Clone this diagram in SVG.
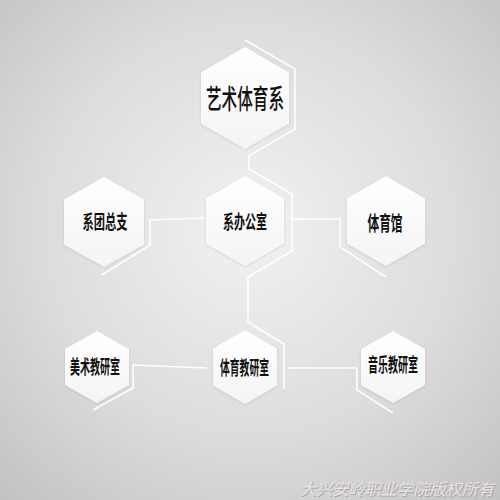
<svg xmlns="http://www.w3.org/2000/svg" width="500" height="500" viewBox="0 0 500 500">
<defs>
<radialGradient id="bg" cx="250" cy="230" r="380" gradientUnits="userSpaceOnUse">
<stop offset="0" stop-color="#f3f2f3"/>
<stop offset="0.55" stop-color="#dddbdc"/>
<stop offset="1" stop-color="#c2bfc0"/>
</radialGradient>
<linearGradient id="hexfill" x1="0" y1="0" x2="0" y2="1">
<stop offset="0" stop-color="#ffffff"/>
<stop offset="1" stop-color="#f4f4f4"/>
</linearGradient>
<filter id="soft" x="-20%" y="-20%" width="140%" height="140%">
<feGaussianBlur in="SourceAlpha" stdDeviation="1.5"/>
<feOffset dx="0" dy="1" result="b"/>
<feComponentTransfer><feFuncA type="linear" slope="0.12"/></feComponentTransfer>
<feMerge><feMergeNode/><feMergeNode in="SourceGraphic"/></feMerge>
</filter>
</defs>
<style>
.hex{fill:url(#hexfill);filter:url(#soft);}
.lbl{font-family:"Noto Sans CJK SC","Noto Sans CJK TC",sans-serif;font-weight:700;fill:#111;text-anchor:middle;}
.title{font-weight:500;}
.conn{fill:none;stroke:#ffffff;stroke-width:1.6;stroke-opacity:0.95;stroke-linejoin:miter;}
.wm{font-family:"Noto Sans CJK SC",serif;font-size:16px;font-style:italic;}
</style>
<rect width="500" height="500" fill="url(#bg)"/>
<g id="connectors">
<path class="conn" d="M245,40 L295,69 L295,129 L249,156 L249,169 L292,194 L292,251 L248,277 L248,322 L284,344 L284,389"/>
<path class="conn" d="M206,218 L150,220 L150,245 L102,275"/>
<path class="conn" d="M290,219 L340,219 L340,247 L386,277"/>
<path class="conn" d="M207,368 L133,365 L133,388 L93,410"/>
<path class="conn" d="M288,368 L357,368 L357,390 L393,413"/>
</g>
<g id="node-top">
<polygon class="hex" points="245,47 289,72.5 289,123.5 245,149 201,123.5 201,72.5"/>
<text class="lbl title" x="245" y="109" font-size="27" textLength="78" lengthAdjust="spacingAndGlyphs">艺术体育系</text>
</g>
<g id="node-office">
<polygon class="hex" points="245,176 284,198.5 284,243.5 245,266 206,243.5 206,198.5"/>
<text class="lbl" x="245" y="229" font-size="19" textLength="44" lengthAdjust="spacingAndGlyphs">系办公室</text>
</g>
<g id="node-party">
<polygon class="hex" points="104,177 144,199.5 144,244.5 104,267 64,244.5 64,199.5"/>
<text class="lbl" x="105" y="229" font-size="19" textLength="45" lengthAdjust="spacingAndGlyphs">系团总支</text>
</g>
<g id="node-gym">
<polygon class="hex" points="386,176 425,198.5 425,243.5 386,266 347,243.5 347,198.5"/>
<text class="lbl" x="385" y="230.5" font-size="20" textLength="35" lengthAdjust="spacingAndGlyphs">体育馆</text>
</g>
<g id="node-art">
<polygon class="hex" points="97,331 129,349 129,385 97,403 65,385 65,349"/>
<text class="lbl" x="95" y="374" font-size="19" textLength="50" lengthAdjust="spacingAndGlyphs">美术教研室</text>
</g>
<g id="node-pe">
<polygon class="hex" points="245,330 277,348.5 277,385.5 245,404 213,385.5 213,348.5"/>
<text class="lbl" x="244.5" y="375" font-size="19" textLength="49" lengthAdjust="spacingAndGlyphs">体育教研室</text>
</g>
<g id="node-music">
<polygon class="hex" points="393,331 425,349 425,385 393,403 361,385 361,349"/>
<text class="lbl" x="393" y="372" font-size="19" textLength="50" lengthAdjust="spacingAndGlyphs">音乐教研室</text>
</g>
<g id="watermark">
<text class="wm" x="301" y="496" fill="#a9a5a6" textLength="194" lengthAdjust="spacingAndGlyphs">大兴安岭职业学院版权所有</text>
<text class="wm" x="300" y="495" fill="#e6e4e5" textLength="194" lengthAdjust="spacingAndGlyphs">大兴安岭职业学院版权所有</text>
</g>
</svg>
